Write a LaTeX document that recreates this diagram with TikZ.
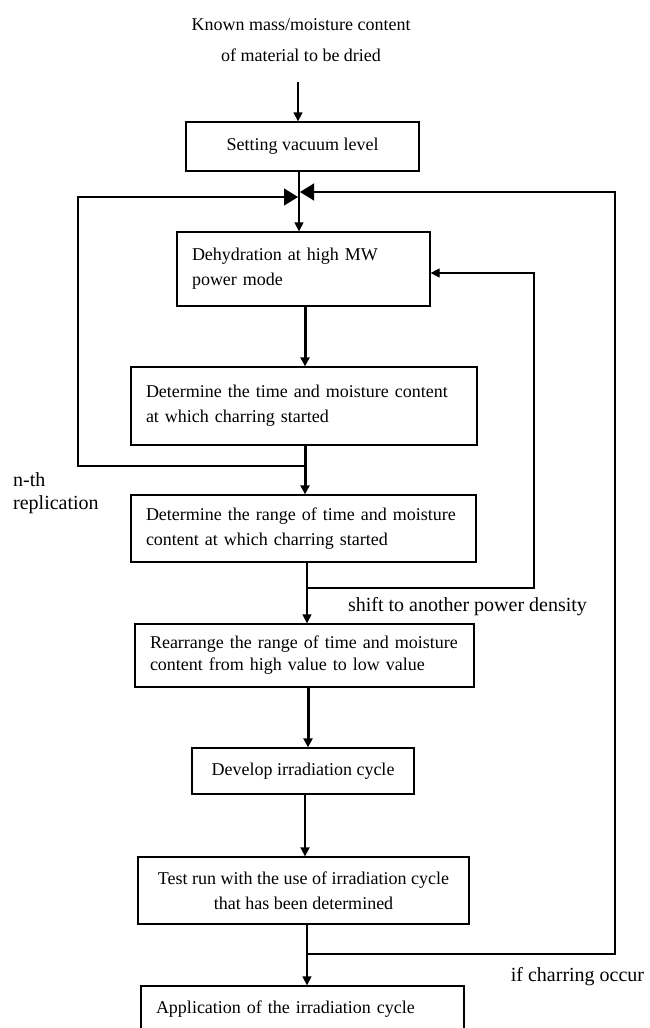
\documentclass[tikz,border=0pt]{standalone}
\usepackage{fontspec}
\setmainfont{Liberation Serif}
\usetikzlibrary{arrows.meta,calc}
\tikzset{
  box/.style={draw, line width=1.3pt, inner xsep=15pt, inner ysep=0pt,
    font=\fontsize{18}{25}\selectfont},
  lbox/.style={box, align=left},
  cbox/.style={box, align=center},
  lab/.style={inner sep=0pt, font=\fontsize{20}{23}\selectfont},
  arr/.style={-{Triangle[length=9pt,width=9pt]}, line width=1.3pt},
  tarr/.style={-{Triangle[length=9pt,width=9pt]}, line width=3pt},
  bigarr/.style={-{Triangle[length=14pt,width=17pt]}, line width=1.3pt}
}
\begin{document}
\begin{tikzpicture}[x=1pt,y=-1pt]
\path[use as bounding box, fill=white] (0,0) rectangle (649,1028);
\clip (0,0) rectangle (649,1028);

% top text
\node[inner sep=0pt, align=center, font=\fontsize{18}{31}\selectfont] (t0) at (301,40.5)
  {Known mass/moisture content\\of material to be dried};

% boxes
\node[cbox, minimum width=233pt, minimum height=49pt] (b1) at (302.5,146.5) {Setting vacuum level};
\node[lbox, minimum height=74pt, text width=223pt] (b2) at (303.5,269)
  {Dehydration at high MW\\power mode};
\node[lbox, minimum height=78pt, text width=316pt] (b3) at (304,406)
  {Determine the time and moisture content\\at which charring started\\[10pt]};
\node[lbox, minimum height=67pt, text width=315pt] (b4) at (303.5,528.5)
  {Determine the range of time and moisture\\content at which charring started};
\node[lbox, minimum height=63pt, text width=309pt, font=\fontsize{18}{22}\selectfont] (b5) at (304.5,655.5)
  {Rearrange the range of time and moisture\\content from high value to low value};
\node[cbox, minimum width=222pt, minimum height=46pt] (b6) at (303,771) {Develop irradiation cycle};
\node[cbox, minimum width=331pt, minimum height=67pt] (b7) at (303.5,890.5)
  {Test run with the use of irradiation cycle\\that has been determined};
\node[lbox, minimum height=46pt, text width=293pt] (b8) at (302.5,1009)
  {Application of the irradiation cycle};

% labels
\node[lab, anchor=west, align=left] (lnth) at (13,493.5) {n-th\\replication};
\node[lab] (lshift) at (467.5,607) {shift to another power density};
\node[lab] (lchar) at (577.5,977) {if charring occur};

% coordinates
\coordinate (c0) at (298,82);
\coordinate (mL) at (298,197);
\coordinate (mR) at (300,192);
\coordinate (l1) at (305,466);
\coordinate (r1) at (307,588);
\coordinate (o1) at (307,954);
\coordinate (xl) at (78,0);
\coordinate (xr) at (534,0);
\coordinate (xo) at (615,0);

% main flow
\draw[arr] (c0) -- (c0 |- b1.north);
\draw[arr] ([xshift=-3.5pt]b1.south) -- ([xshift=-4.5pt]b2.north);
\draw[tarr] ([xshift=1.5pt]b2.south) -- ([xshift=1pt]b3.north);
\draw[tarr] ([xshift=1pt]b3.south) -- ([xshift=1.5pt]b4.north);
\draw[arr] ([xshift=3.5pt]b4.south) -- ([xshift=2.5pt]b5.north);
\draw[tarr] ([xshift=3.5pt]b5.south) -- ([xshift=5pt]b6.north);
\draw[arr,line width=1.8pt] ([xshift=2pt]b6.south) -- ([xshift=1.5pt]b7.north);
\draw[arr] ([xshift=3.5pt]b7.south) -- ([xshift=4.5pt]b8.north);

% loops
\draw[bigarr] (l1) -- (l1 -| xl) |- (mL);
\draw[arr] (r1) -- (r1 -| xr) |- ([yshift=-4pt]b2.east);
\draw[bigarr] (o1) -- (o1 -| xo) |- (mR);
\end{tikzpicture}
\end{document}
